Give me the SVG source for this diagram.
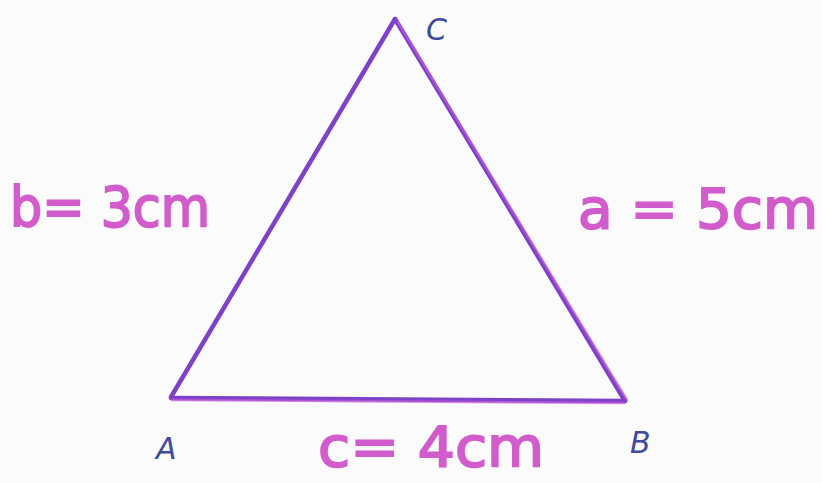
<svg xmlns="http://www.w3.org/2000/svg" width="822" height="483" viewBox="0 0 822 483">
<style>
.edge{stroke:#7e42c8;stroke-width:4.5;stroke-linecap:round;fill:none}
.edge2{stroke:#c05ad8;stroke-width:2.5;stroke-linecap:round;fill:none;opacity:0.7}
.len{font-family:"DejaVu Sans","Liberation Sans",sans-serif;fill:#d25ccc;stroke:#d25ccc;stroke-width:2;font-size:56px}
.vtx{font-family:"DejaVu Sans","Liberation Sans",sans-serif;fill:#3e4a9c;font-size:30px;font-style:italic}
</style>
<rect width="822" height="483" fill="#fbfbfb"/>
<g id="connectors">
<line class="edge" x1="171" y1="397" x2="395" y2="19"/>
<line class="edge" x1="395" y1="19" x2="625" y2="401"/>
<line class="edge" x1="171" y1="398" x2="625" y2="401"/>
<line class="edge2" x1="398" y1="22" x2="627" y2="400"/>
<line class="edge2" x1="172" y1="400" x2="624" y2="403"/>
</g>
<g id="label-b"><text class="len" x="10" y="226" textLength="200" lengthAdjust="spacingAndGlyphs">b= 3cm</text></g>
<g id="label-a"><text class="len" x="578" y="228" textLength="240" lengthAdjust="spacingAndGlyphs">a = 5cm</text></g>
<g id="label-c"><text class="len" x="318" y="466" font-size="52" textLength="226" lengthAdjust="spacingAndGlyphs">c= 4cm</text></g>
<g id="node-A"><text class="vtx" x="156" y="459">A</text></g>
<g id="node-B"><text class="vtx" x="630" y="453">B</text></g>
<g id="node-C"><text class="vtx" x="426" y="40">C</text></g>
</svg>
